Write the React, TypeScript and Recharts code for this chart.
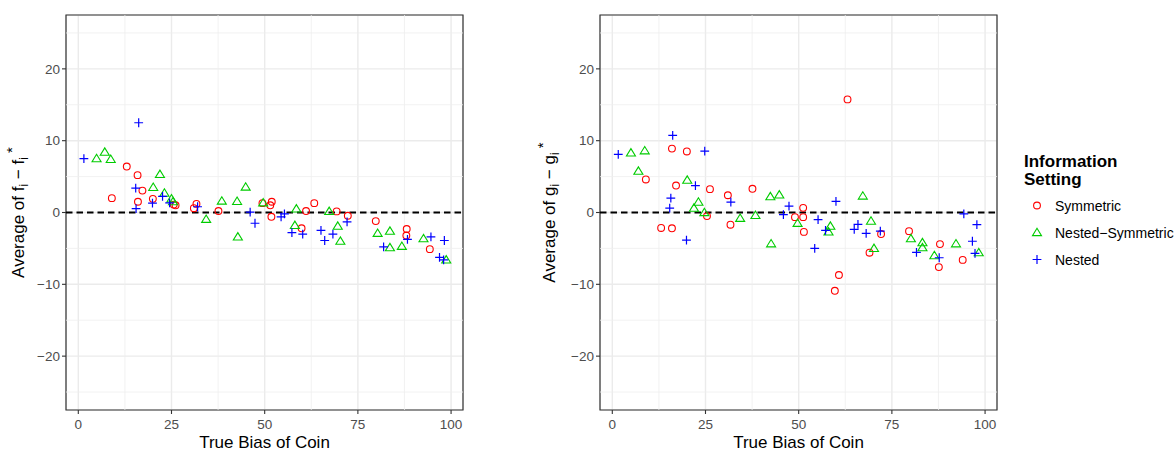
import React from "react";
import {
  ScatterChart,
  Scatter,
  XAxis,
  YAxis,
  CartesianGrid,
  ReferenceLine,
  ReferenceArea,
} from "recharts";

const FONT = "'Liberation Sans', Arial, Helvetica, sans-serif";

const xTicks = [0, 25, 50, 75, 100];
const yTicks = [-20, -10, 0, 10, 20];
const xMinor = [12.5, 37.5, 62.5, 87.5];
const yMinor = [-25, -15, -5, 5, 15, 25];
const xDomain = [-3.3, 103.2];
const yDomain = [-27.5, 27.5];

// left panel: f_i - f_i*
const fSymX = [9.0, 13.0, 15.9, 16.0, 17.2, 20.0, 25.6, 26.1, 31.0, 31.7, 37.6, 49.4, 51.5, 51.8, 51.9, 59.9, 61.1, 63.3, 69.3, 72.3, 79.8, 88.0, 88.1, 94.3];
const fSymY = [2.0, 6.4, 5.2, 1.5, 3.05, 1.9, 1.1, 1.0, 0.6, 1.2, 0.2, 1.3, 1.0, -0.6, 1.5, -2.2, 0.2, 1.3, 0.15, -0.45, -1.2, -3.2, -2.3, -5.1];
const fNsX = [4.9, 7.1, 8.7, 20.1, 21.9, 23.1, 25.0, 25.4, 34.3, 38.5, 42.6, 42.8, 44.9, 49.6, 58.1, 58.5, 67.3, 69.6, 70.3, 80.3, 83.6, 83.6, 86.8, 92.6, 98.7];
const fNsY = [7.5, 8.4, 7.4, 3.5, 5.3, 2.7, 1.9, 1.5, -0.95, 1.6, 1.55, -3.4, 3.55, 1.35, -1.8, 0.5, 0.15, -1.9, -4.0, -2.9, -2.6, -4.9, -4.7, -3.65, -6.6];
const fNeX = [1.5, 15.4, 15.5, 16.2, 19.9, 22.6, 24.5, 32.0, 46.1, 47.4, 54.4, 55.3, 57.3, 60.2, 65.1, 66.1, 68.3, 72.1, 81.9, 88.3, 94.6, 96.9, 98.0, 98.2];
const fNeY = [7.5, 3.4, 0.55, 12.5, 1.3, 2.25, 1.35, 0.8, 0.05, -1.5, -0.6, -0.2, -2.8, -3.0, -2.5, -3.9, -3.0, -1.3, -4.8, -3.75, -3.4, -6.25, -6.6, -3.9];

// right panel: g_i - g_i*
const gSymX = [9.0, 13.1, 16.0, 16.0, 17.1, 20.0, 25.4, 26.2, 31.0, 31.7, 37.6, 49.0, 51.2, 51.2, 51.4, 59.7, 60.8, 63.1, 69.0, 72.1, 79.6, 87.6, 87.9, 94.0];
const gSymY = [4.6, -2.15, 8.9, -2.2, 3.75, 8.5, -0.5, 3.25, 2.4, -1.7, 3.3, -0.65, 0.65, -0.65, -2.7, -10.9, -8.7, 15.75, -5.6, -3.0, -2.6, -7.6, -4.4, -6.6];
const gNsX = [5.0, 7.0, 8.7, 20.1, 21.9, 23.1, 24.7, 34.3, 38.4, 42.4, 42.6, 44.8, 49.7, 58.0, 58.5, 67.2, 69.4, 70.2, 80.1, 83.2, 83.2, 86.4, 92.2, 98.3];
const gNsY = [8.3, 5.75, 8.6, 4.5, 0.6, 1.45, 0.0, -0.8, -0.4, 2.2, -4.35, 2.45, -1.5, -2.7, -1.9, 2.3, -1.2, -5.0, -3.65, -4.2, -4.9, -6.0, -4.35, -5.6];
const gNeX = [1.6, 15.4, 15.7, 16.2, 19.9, 22.3, 24.8, 31.8, 45.9, 47.4, 54.3, 55.2, 57.2, 60.0, 64.9, 65.9, 68.1, 71.9, 81.6, 87.7, 94.3, 96.6, 97.3, 97.8];
const gNeY = [8.1, 0.6, 2.0, 10.75, -3.85, 3.75, 8.55, 1.45, -0.3, 0.9, -5.0, -1.0, -2.5, 1.55, -2.35, -1.65, -2.9, -2.6, -5.55, -6.3, -0.2, -4.0, -5.7, -1.7];

const RED = "#FF0000";
const GREEN = "#00CC00";
const BLUE = "#0000FF";

const zip = (xs: number[], ys: number[]) => xs.map((x, i) => ({ x, y: ys[i] }));
const minus = (v: number) => String(v).replace("-", "\u2212");

const OpenCircle = (p: any) => (
  <circle cx={p.cx} cy={p.cy} r={3.4} fill="none" stroke={RED} strokeWidth={1.1} />
);
const OpenTriangle = (p: any) => {
  const { cx, cy } = p;
  const s = 4.3;
  const pts = `${cx},${cy - s} ${cx - s * 1.05},${cy + s * 0.72} ${cx + s * 1.05},${cy + s * 0.72}`;
  return <polygon points={pts} fill="none" stroke={GREEN} strokeWidth={1.1} />;
};
const Plus = (p: any) => {
  const { cx, cy } = p;
  const s = 4.4;
  return (
    <path d={`M${cx - s},${cy}H${cx + s}M${cx},${cy - s}V${cy + s}`} stroke={BLUE} strokeWidth={1.2} fill="none" />
  );
};

const series = [
  { name: "Symmetric", color: RED, Shape: OpenCircle },
  { name: "Nested\u2212Symmetric", color: GREEN, Shape: OpenTriangle },
  { name: "Nested", color: BLUE, Shape: Plus },
];

const W = 470;
const H = 453;
const M = { top: 15, right: 7, left: 0, bottom: 0 };
const YW = 66;
const XH = 43;
const PW = W - M.right - M.left - YW;
const PH = H - M.top - XH;

function YTitle({ letter, bx }: { letter: string; bx: number }) {
  const cy = M.top + PH / 2;
  return (
    <text
      transform={`translate(${bx},${cy}) rotate(-90)`}
      textAnchor="middle"
      fontSize={17}
      fontFamily={FONT}
      fill="#000"
    >
      <tspan>{"Average of  " + letter}</tspan>
      <tspan fontSize={12} dy={4}>i</tspan>
      <tspan dy={-4}>{" \u2212 " + letter}</tspan>
      <tspan fontSize={12} dy={4}>i</tspan>
      <tspan fontSize={15} dy={-11}>{" *"}</tspan>
    </text>
  );
}

function XTitle() {
  return (
    <text x={YW + PW / 2} y={448} textAnchor="middle" fontSize={17} fontFamily={FONT} fill="#000">
      True Bias of Coin
    </text>
  );
}

function Panel({ letter, sym, ns, ne, titleX }: any) {
  return (
    <ScatterChart width={W} height={H} margin={M}>
      <CartesianGrid stroke="#EBEBEB" strokeWidth={1.4} />
      {xMinor.map((v) => (
        <ReferenceLine key={"x" + v} x={v} stroke="#EFEFEF" strokeWidth={0.8} />
      ))}
      {yMinor.map((v) => (
        <ReferenceLine key={"y" + v} y={v} stroke="#EFEFEF" strokeWidth={0.8} />
      ))}
      <XAxis
        type="number"
        dataKey="x"
        domain={xDomain}
        ticks={xTicks}
        allowDataOverflow
        height={XH}
        axisLine={false}
        tickSize={4}
        tickMargin={5}
        tickLine={{ stroke: "#333333", strokeWidth: 1.1 }}
        tick={{ fontSize: 13.5, fill: "#4D4D4D", fontFamily: FONT }}
        label={{ content: () => <XTitle /> }}
      />
      <YAxis
        type="number"
        dataKey="y"
        domain={yDomain}
        ticks={yTicks}
        tickFormatter={minus}
        allowDataOverflow
        width={YW}
        axisLine={false}
        tickSize={4}
        tickMargin={2}
        tickLine={{ stroke: "#333333", strokeWidth: 1.1 }}
        tick={{ fontSize: 13.5, fill: "#4D4D4D", fontFamily: FONT }}
        label={{ content: () => <YTitle letter={letter} bx={titleX} /> }}
      />
      <ReferenceLine y={0} stroke="#000" strokeWidth={1.8} strokeDasharray="6.5 4" />
      <Scatter name="Symmetric" data={sym} shape={OpenCircle} isAnimationActive={false} />
      <Scatter name="Nested-Symmetric" data={ns} shape={OpenTriangle} isAnimationActive={false} />
      <Scatter name="Nested" data={ne} shape={Plus} isAnimationActive={false} />
      <ReferenceArea
        x1={xDomain[0]}
        x2={xDomain[1]}
        y1={yDomain[0]}
        y2={yDomain[1]}
        fill="none"
        fillOpacity={0}
        stroke="#333333"
        strokeWidth={1.2}
        ifOverflow="visible"
      />
    </ScatterChart>
  );
}

function LegendBox() {
  return (
    <svg width={175} height={140} style={{ position: "absolute", left: 1000, top: 140 }}>
      <text x={24} y={26.5} fontSize={17} fontWeight="bold" fontFamily={FONT} fill="#000">
        Information
      </text>
      <text x={24} y={45} fontSize={17} fontWeight="bold" fontFamily={FONT} fill="#000">
        Setting
      </text>
      {series.map((s, i) => {
        const cy = 65.5 + i * 27;
        const Shape = s.Shape;
        return (
          <g key={s.name}>
            <Shape cx={37} cy={cy} />
            <text x={55} y={cy} dominantBaseline="central" fontSize={14} fontFamily={FONT} fill="#000">
              {s.name}
            </text>
          </g>
        );
      })}
    </svg>
  );
}

export default function App() {
  return (
    <div style={{ position: "absolute", left: 0, top: 0, width: 1175, height: 453, background: "#fff" }}>
      <div style={{ position: "absolute", left: 0, top: 0 }}>
        <Panel letter="f" sym={zip(fSymX, fSymY)} ns={zip(fNsX, fNsY)} ne={zip(fNeX, fNeY)} titleX={23.5} />
      </div>
      <div style={{ position: "absolute", left: 534, top: 0 }}>
        <Panel letter="g" sym={zip(gSymX, gSymY)} ns={zip(gNsX, gNsY)} ne={zip(gNeX, gNeY)} titleX={21} />
      </div>
      <LegendBox />
    </div>
  );
}
